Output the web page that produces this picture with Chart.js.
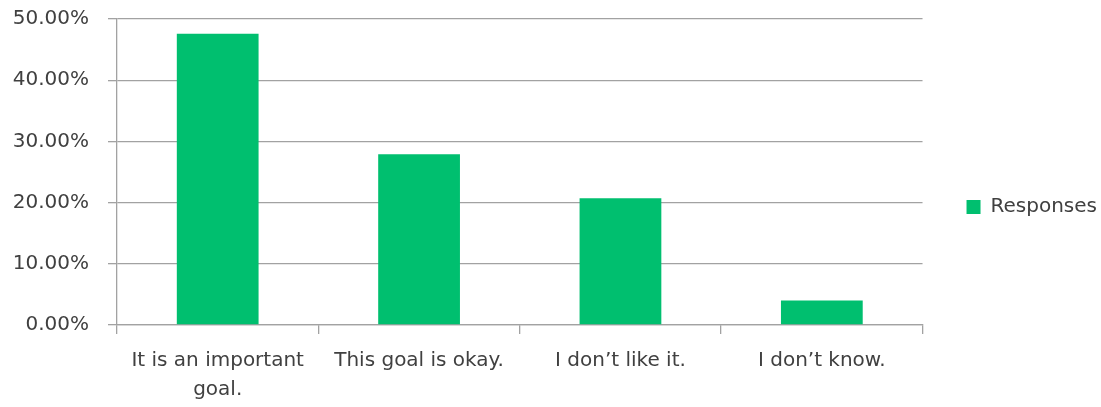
<!DOCTYPE html>
<html>
<head>
<meta charset="utf-8">
<script src="https://cdn.jsdelivr.net/npm/chart.js@4/dist/chart.umd.min.js"></script>
<style>
  html, body { margin: 0; padding: 0; background: #ffffff; }
  #wrap { width: 1101px; height: 407px; }
</style>
</head>
<body>
<div id="wrap"><canvas id="c" width="1101" height="407"></canvas></div>
<script>
const categories = [['It is an important', 'goal.'], 'This goal is okay.', 'I don’t like it.', 'I don’t know.'];
const responses = [47.6, 27.9, 20.7, 4.0];
const seriesName = 'Responses';
const yMin = 0, yMax = 50, yStep = 10;

const FONT = 'DejaVu Sans';
const TEXT = '#404040';
const GRID = '#a2a2a2';

new Chart(document.getElementById('c'), {
  type: 'bar',
  data: {
    labels: categories,
    datasets: [{
      label: seriesName,
      data: responses,
      backgroundColor: '#00BF6F',
      borderWidth: 0,
      barPercentage: 0.406,
      categoryPercentage: 1.0
    }]
  },
  options: {
    responsive: false,
    animation: false,
    layout: { padding: { top: 7, right: -6, bottom: 0, left: 0 } },
    plugins: {
      tooltip: { enabled: false },
      legend: {
        position: 'right',
        labels: {
          boxWidth: 14,
          boxHeight: 14,
          padding: 44,
          color: TEXT,
          font: { family: FONT, size: 20 }
        }
      }
    },
    scales: {
      x: {
        offset: true,
        afterFit: (s) => { s.height = 82; },
        grid: { display: true, drawOnChartArea: false, drawTicks: true, tickLength: 9, offset: true, color: GRID, lineWidth: 1.3 },
        border: { display: true, color: GRID, width: 1.3 },
        ticks: { color: TEXT, font: { family: FONT, size: 20, lineHeight: 1.45 }, padding: 12, maxRotation: 0, autoSkip: false }
      },
      y: {
        min: yMin,
        max: yMax,
        afterFit: (s) => { s.width = 117; s.paddingTop = 19; s.paddingBottom = 12; },
        grid: { color: GRID, lineWidth: 1.3, drawTicks: true, tickLength: 9 },
        border: { display: true, color: GRID, width: 1.3 },
        ticks: {
          stepSize: yStep,
          color: TEXT,
          font: { family: FONT, size: 20 },
          padding: 19,
          callback: (v) => Number(v).toFixed(2) + '%'
        }
      }
    }
  }
});
</script>
</body>
</html>
